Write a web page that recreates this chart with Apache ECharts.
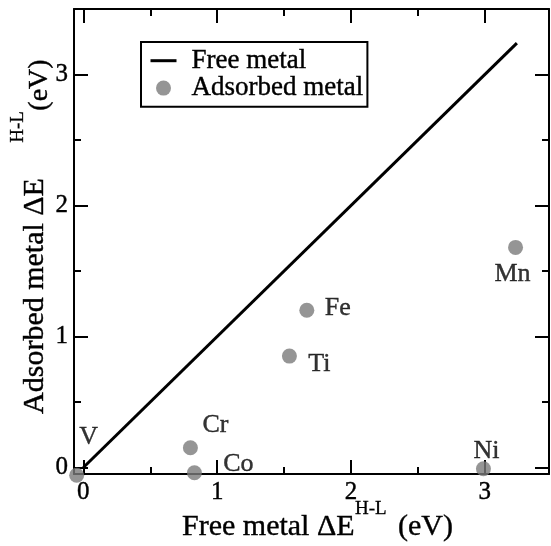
<!DOCTYPE html>
<html>
<head>
<meta charset="utf-8">
<script src="https://cdn.jsdelivr.net/npm/echarts@6/dist/echarts.min.js"></script>
<style>
html,body{margin:0;padding:0;background:#fff;}
#c{width:551px;height:546px;}
</style>
</head>
<body>
<div id="c"></div>
<script>
// ---- data ----
const metals   = ['V', 'Ti', 'Cr', 'Mn', 'Fe', 'Co', 'Ni'];
const freeVals = [-0.05, 1.54, 0.80, 3.23, 1.67, 0.83, 2.99];
const adsVals  = [-0.06, 0.85, 0.15, 1.68, 1.20, -0.04, -0.01];
const lineX    = [0, 3.24];
const lineY    = [0, 3.24];
const majorTicks = [0, 1, 2, 3];
const minorTicks = [0.5, 1.5, 2.5];

// ---- styling (label offsets in px, relative to marker centre) ----
const labelOffsets = {
  V: [12, -38], Ti: [30, 8], Cr: [25, -23], Mn: [-3, 27],
  Fe: [31, -2], Co: [44, -9], Ni: [3, -18]
};
const FONT = '"Liberation Serif", "DejaVu Serif", serif';
const XMIN = -0.07, XMAX = 3.48, YMIN = -0.05, YMAX = 3.5;
const INK = {textBorderColor: '#000', textBorderWidth: 0.4};
const HALF = 7.5; // half of marker size

function mkAxis(dim, pos, ticks, len, showLine, showLabel) {
  return {
    type: 'value', position: pos, min: dim === 'x' ? XMIN : YMIN, max: dim === 'x' ? XMAX : YMAX,
    splitLine: {show: false},
    axisLine: {show: showLine, onZero: false, lineStyle: {color: '#000', width: 2}},
    axisTick: {show: true, inside: true, length: len, customValues: ticks,
               lineStyle: {color: '#000', width: 2}},
    axisLabel: Object.assign({show: showLabel, customValues: majorTicks, color: '#000',
                fontFamily: FONT, fontSize: 25, margin: 6}, INK),
    splitArea: {show: false}
  };
}

const chart = echarts.init(document.getElementById('c'), null, {renderer: 'canvas'});

const scatterData = metals.map((m, i) => ({
  name: m, value: [freeVals[i], adsVals[i]],
  label: {offset: [labelOffsets[m][0], labelOffsets[m][1] + HALF]}
}));

chart.setOption({
  animation: false,
  backgroundColor: '#fff',
  grid: {left: 74, right: 2, top: 9, bottom: 72, containLabel: false},
  xAxis: [
    mkAxis('x', 'bottom', majorTicks, 14, true, true),
    mkAxis('x', 'bottom', minorTicks, 7, false, false),
    mkAxis('x', 'top', majorTicks, 14, true, false),
    mkAxis('x', 'top', minorTicks, 7, false, false)
  ],
  yAxis: [
    mkAxis('y', 'left', majorTicks, 14, true, true),
    mkAxis('y', 'left', minorTicks, 7, false, false),
    mkAxis('y', 'right', majorTicks, 14, true, false),
    mkAxis('y', 'right', minorTicks, 7, false, false)
  ],
  legend: {
    show: true, orient: 'vertical', left: 141, top: 42,
    padding: [5, 4, 5, 8], itemGap: 0, itemWidth: 26, itemHeight: 15,
    borderColor: '#000', borderWidth: 2, borderRadius: 0, backgroundColor: '#fff',
    textStyle: Object.assign({fontFamily: FONT, fontSize: 27, color: '#000', lineHeight: 25, padding: [0, 0, 0, 10]}, INK),
    data: [
      {name: 'Free metal', itemStyle: {opacity: 0}, lineStyle: {width: 3, color: '#000'}},
      {name: 'Adsorbed metal'}
    ]
  },
  series: [
    {
      name: 'Free metal', type: 'line', xAxisIndex: 0, yAxisIndex: 0,
      data: lineX.map((x, i) => [x, lineY[i]]),
      symbol: 'none', showSymbol: false, z: 5,
      lineStyle: {color: '#000', width: 3}, itemStyle: {color: '#000'}
    },
    {
      name: 'Adsorbed metal', type: 'scatter', xAxisIndex: 0, yAxisIndex: 0,
      data: scatterData, symbol: 'circle', symbolSize: 15, clip: false, z: 3,
      itemStyle: {color: '#7b7b7b'},
      label: Object.assign({show: true, position: 'top', distance: 0, formatter: '{b}', color: '#000',
              fontFamily: FONT, fontSize: 26, align: 'center', verticalAlign: 'middle'}, INK)
    }
  ],
  graphic: [
    {type: 'text', x: 182, y: 527, style: {text: 'Free metal \u0394E', font: '30px ' + FONT, fill: '#000', stroke: '#000', lineWidth: 0.4, align: 'left', verticalAlign: 'middle'}},
    {type: 'text', x: 355, y: 509, style: {text: 'H-L', font: '19px ' + FONT, fill: '#000', stroke: '#000', lineWidth: 0.3, align: 'left', verticalAlign: 'middle'}},
    {type: 'text', x: 398, y: 527, style: {text: '(eV)', font: '30px ' + FONT, fill: '#000', stroke: '#000', lineWidth: 0.4, align: 'left', verticalAlign: 'middle'}},
    {type: 'text', x: 35, y: 296, rotation: Math.PI / 2, style: {text: 'Adsorbed metal \u0394E', font: '30px ' + FONT, fill: '#000', stroke: '#000', lineWidth: 0.4, align: 'center', verticalAlign: 'middle'}},
    {type: 'text', x: 18, y: 127, rotation: Math.PI / 2, style: {text: 'H-L', font: '19px ' + FONT, fill: '#000', stroke: '#000', lineWidth: 0.3, align: 'center', verticalAlign: 'middle'}},
    {type: 'text', x: 40, y: 85, rotation: Math.PI / 2, style: {text: '(eV)', font: '28px ' + FONT, fill: '#000', stroke: '#000', lineWidth: 0.4, align: 'center', verticalAlign: 'middle'}}
  ]
});
</script>
</body>
</html>
